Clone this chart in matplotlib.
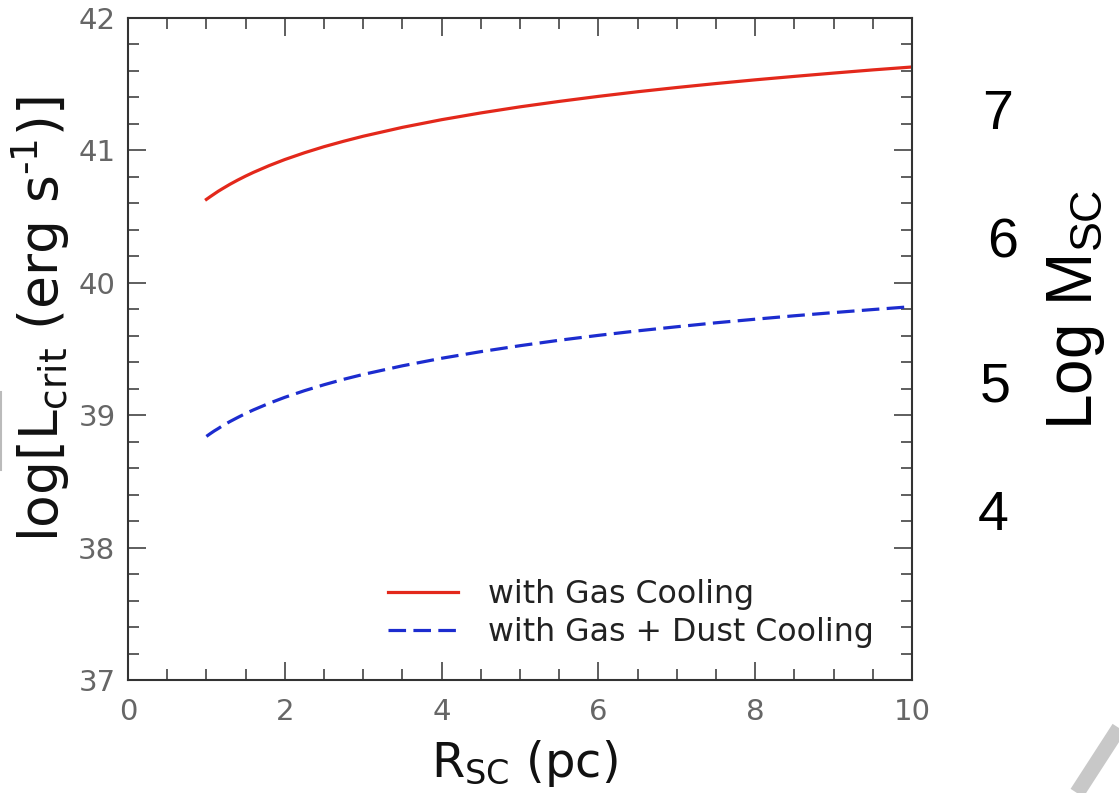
import matplotlib
matplotlib.use("Agg")
import matplotlib.pyplot as plt
from matplotlib.ticker import MultipleLocator
from matplotlib.lines import Line2D

# Data
r_sc = [1.0, 1.05, 1.1, 1.15, 1.2, 1.3, 1.4, 1.5, 1.6, 1.8, 2.0, 2.25, 2.5, 2.75, 3.0,
        3.5, 4.0, 4.5, 5.0, 5.5, 6.0, 6.5, 7.0, 7.5, 8.0, 8.5, 9.0, 9.5, 10.0]
l_gas = [40.630, 40.651, 40.671, 40.691, 40.709, 40.744, 40.776, 40.806, 40.834, 40.885,
         40.931, 40.982, 41.028, 41.069, 41.107, 41.174, 41.232, 41.283, 41.329, 41.370,
         41.408, 41.443, 41.475, 41.505, 41.533, 41.559, 41.584, 41.608, 41.630]
l_gas_dust = [38.840, 38.861, 38.881, 38.899, 38.918, 38.952, 38.983, 39.013, 39.040, 39.090,
              39.135, 39.185, 39.230, 39.271, 39.308, 39.373, 39.430, 39.480, 39.525, 39.566,
              39.603, 39.637, 39.668, 39.698, 39.725, 39.751, 39.775, 39.798, 39.820]
series_labels = ["with Gas Cooling", "with Gas + Dust Cooling"]
x_ticks = [0, 2, 4, 6, 8, 10]
y_ticks = [37, 38, 39, 40, 41, 42]
mass_labels = ["7", "6", "5", "4"]

plt.rcParams['mathtext.fontset'] = 'dejavusans'
plt.rcParams['mathtext.rm'] = 'Liberation Sans'

fig = plt.figure(figsize=(11.19, 7.93), dpi=100)
ax = fig.add_axes([128/1119, 1-680/793, (912-128)/1119, (680-18)/793])

ax.plot(r_sc, l_gas, color='#e3281b', lw=2.3, label=series_labels[0])
ax.plot(r_sc, l_gas_dust, color='#1c2ccf', lw=2.3, linestyle=(0, (5.5, 2.3)), label=series_labels[1])

ax.set_xlim(0, 10)
ax.set_ylim(37, 42)
ax.set_xticks(x_ticks)
ax.set_yticks(y_ticks)
ax.xaxis.set_minor_locator(MultipleLocator(0.5))
ax.yaxis.set_minor_locator(MultipleLocator(0.2))
ax.tick_params(which='both', direction='in', top=True, right=True, color='#333333', width=1.1)
ax.tick_params(which='major', length=13)
ax.tick_params(which='minor', length=8)
ax.tick_params(axis='x', which='major', labelsize=21, labelcolor='#666666', pad=13)
ax.tick_params(axis='y', which='major', labelsize=21, labelcolor='#666666', pad=9)
for s in ax.spines.values():
    s.set_color('#333333')
    s.set_linewidth(1.5)

ax.set_xlabel(r'R$_{\rm SC}$ (pc)', fontsize=34.5, color='#111111')
ax.xaxis.set_label_coords(0.505, -0.088)
ax.set_ylabel('log[L$_{\\rm crit}$ (erg s$^{\u20101}$)]', fontsize=38.5, color='#111111')
ax.yaxis.set_label_coords(-0.072, 0.545)

leg = ax.legend(loc='upper left', bbox_to_anchor=(0.332, 0.152), frameon=False,
                fontsize=22.8, borderaxespad=0, borderpad=0, handlelength=2.2,
                handletextpad=0.95, labelspacing=0.2)
for t in leg.get_texts():
    t.set_color('#222222')

# Right-side mass annotations
mass_pos = [(998, 115), (1003, 243), (995, 388), (993, 516)]
for lab, (px, py) in zip(mass_labels, mass_pos):
    fig.text(px/1119, 1-py/793, lab, fontsize=40, family='Liberation Sans',
             ha='center', va='center', color='black')
fig.text(1076/1119, 1-310/793, r'Log M$_{\rm SC}$', fontsize=46, family='Liberation Sans',
         rotation=90, ha='center', va='center', color='black', math_fontfamily='custom')

# decorative gray strokes from the reference image
fig.add_artist(Line2D([0.0008, 0.0008], [1-392/793, 1-470/793], transform=fig.transFigure,
                      color='#bbbbbb', lw=1.5))
fig.add_artist(Line2D([1119/1119, 1077/1119], [1-728/793, 1-793/793], transform=fig.transFigure,
                      color='#c8c8c8', lw=11, solid_capstyle='butt'))

fig.savefig('out.png', dpi=100)
